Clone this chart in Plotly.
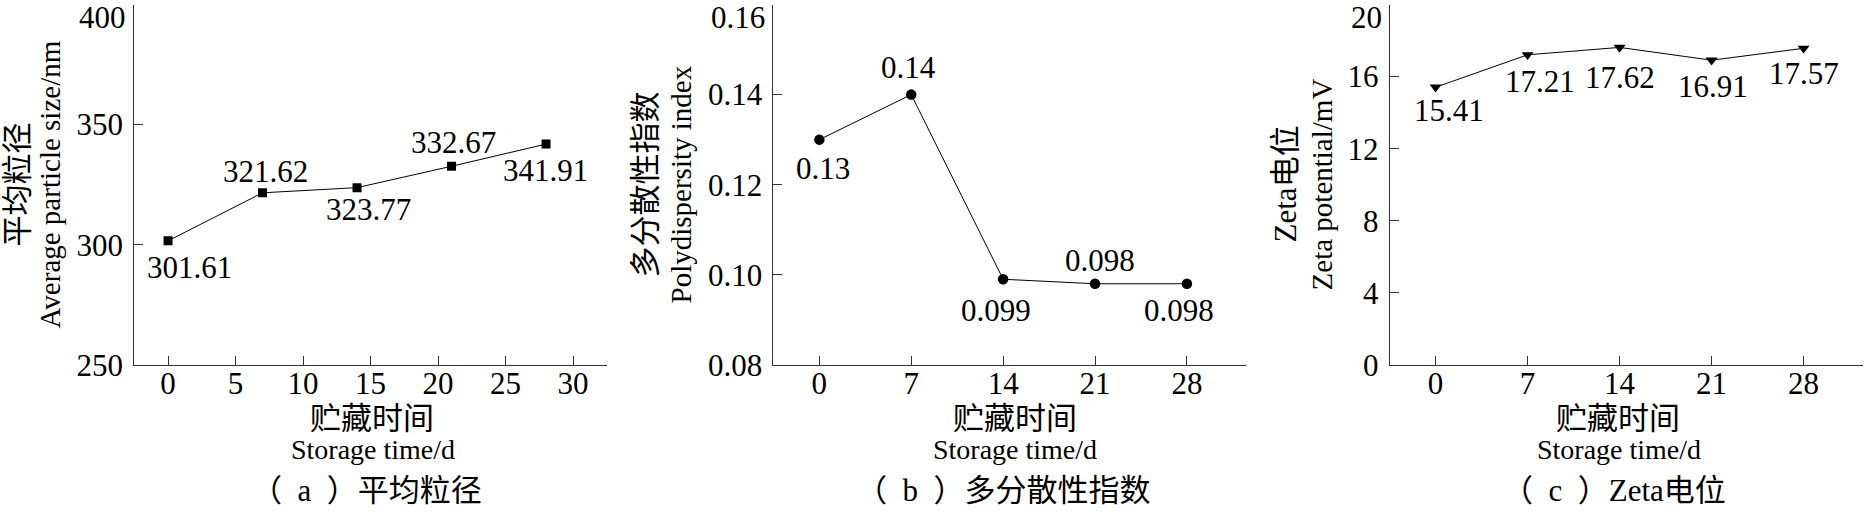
import plotly.graph_objects as go

# ---------------- data ----------------
days = [0, 7, 14, 21, 28]
particle_size_nm = [301.61, 321.62, 323.77, 332.67, 341.91]
pdi_index = [0.13, 0.14, 0.099, 0.098, 0.098]
zeta_potential_mv = [15.41, 17.21, 17.62, 16.91, 17.57]

xticks_a = [0, 5, 10, 15, 20, 25, 30]
xticks_bc = [0, 7, 14, 21, 28]
yticks_a = [250, 300, 350, 400]
yticks_b = [0.08, 0.10, 0.12, 0.14, 0.16]
yticks_c = [0, 4, 8, 12, 16, 20]

ytitle_cn = ["平均粒径", "多分散性指数", "Zeta电位"]
ytitle_en = ["Average particle size/nm", "Polydispersity index", "Zeta potential/mV"]
xtitle_cn = "贮藏时间"
xtitle_en = "Storage time/d"
captions = ["（\u2002a\u2002）平均粒径", "（\u2002b\u2002）多分散性指数", "（\u2002c\u2002）Zeta电位"]

# ---------------- style ----------------
W, H = 1864, 524
FONT = "'Liberation Serif', 'Noto Sans CJK SC', serif"
INK = "#000000"
AXC = "#333333"
TICK_FS = 31
LABEL_FS = 31
CN_FS = 31
EN_FS_Y = 29
EN_FS_X = 28

x_dom = [(134.3, 606.8), (773.4, 1246.0), (1389.6, 1862.7)]
y_dom_px = (4.7, 377.8)
x_ranges = [(-2.5, 32.5), (-3.5, 32.5), (-3.5, 32.5)]
y_ranges = [(250, 400), (0.08, 0.16), (0, 20)]
markers = ["square", "circle", "triangle-down"]
marker_sizes = [9, 10.5, 10.5]
label_off = [
    [(21.5, 27), (3, -21), (11.5, 22), (2, -24), (-1, 26)],
    [(4, 29), (-3, -27), (-7.6, 31), (5, -23), (-8, 27)],
    [(13, 23), (12, 27), (0, 30), (1, 26), (0, 25)],
]
ytitle_cn_x = [17, 645, 1285]
ytitle_en_x = [50, 681, 1322]
ytitle_y = 191
xtitle_cn_pos = [(372, 433), (1014.5, 433), (1618, 433)]
xtitle_en_pos = [(373, 466), (1015, 466), (1619, 466)]
caption_pos = [(366, 508), (1003.5, 508), (1614, 508)]


def px_x(x):
    return x / W


def px_y(y):
    return 1 - y / H


series = [particle_size_nm, pdi_index, zeta_potential_mv]
xticks = [xticks_a, xticks_bc, xticks_bc]
yticks = [yticks_a, yticks_b, yticks_c]
yfmt = [lambda v: f"{v:g}", lambda v: f"{v:.2f}", lambda v: f"{v:g}"]

fig = go.Figure()
annotations = []

for i in range(3):
    sfx = "" if i == 0 else str(i + 1)
    xa, ya = "x" + sfx, "y" + sfx
    fig.add_trace(go.Scatter(
        x=days, y=series[i], xaxis=xa, yaxis=ya, mode="lines+markers",
        line=dict(color=INK, width=1),
        marker=dict(symbol=markers[i], size=marker_sizes[i], color=INK, line=dict(width=0)),
        showlegend=False, hoverinfo="x+y",
    ))
    # data labels
    for d, v, (dx, dy) in zip(days, series[i], label_off[i]):
        annotations.append(dict(
            x=d, y=v, xref=xa, yref=ya, text=f"{v:g}", showarrow=False,
            xanchor="center", yanchor="middle", xshift=dx, yshift=-dy,
            font=dict(family=FONT, size=LABEL_FS, color=INK),
        ))
    xr = x_ranges[i]
    xt = xticks[i] + [xr[1]]
    xtt = [str(t) for t in xticks[i]] + [""]
    yt = yticks[i]
    ytt = [yfmt[i](t) for t in yt[:-1]] + [""]
    common = dict(
        showline=True, linecolor=AXC, linewidth=1, showgrid=False, zeroline=False,
        ticks="inside", ticklen=9, tickwidth=1, tickcolor=AXC,
        tickfont=dict(family=FONT, size=TICK_FS, color=INK), fixedrange=True,
    )
    fig.update_layout(**{
        ("xaxis" + sfx): dict(
            domain=[px_x(x_dom[i][0]), px_x(x_dom[i][1])], range=list(xr),
            tickmode="array", tickvals=xt, ticktext=xtt, anchor=ya,
            ticklabelstandoff=-9, **common),
        ("yaxis" + sfx): dict(
            domain=[px_y(y_dom_px[1]), px_y(y_dom_px[0])], range=list(y_ranges[i]),
            tickmode="array", tickvals=yt, ticktext=ytt, anchor=xa,
            ticklabelstandoff=4, **common),
    })
    # top y tick label, nudged down (as in the original) so it stays inside the picture
    annotations.append(dict(
        x=0, xref=xa + " domain", y=yt[-1], yref=ya, text=yfmt[i](yt[-1]),
        showarrow=False, xanchor="right", yanchor="middle", xshift=-7, yshift=-13,
        borderpad=0, font=dict(family=FONT, size=TICK_FS, color=INK),
    ))
    # y titles
    annotations.append(dict(
        x=px_x(ytitle_cn_x[i]), y=px_y(ytitle_y), xref="paper", yref="paper",
        text=ytitle_cn[i], textangle=-90, showarrow=False,
        xanchor="center", yanchor="middle", font=dict(family=FONT, size=CN_FS, color=INK)))
    annotations.append(dict(
        x=px_x(ytitle_en_x[i]), y=px_y(ytitle_y), xref="paper", yref="paper",
        text=ytitle_en[i], textangle=-90, showarrow=False,
        xanchor="center", yanchor="middle", font=dict(family=FONT, size=EN_FS_Y, color=INK)))
    # x titles
    annotations.append(dict(
        x=px_x(xtitle_cn_pos[i][0]), y=px_y(xtitle_cn_pos[i][1]), xref="paper", yref="paper",
        text=xtitle_cn, showarrow=False, xanchor="center", yanchor="middle",
        font=dict(family=FONT, size=CN_FS, color=INK)))
    annotations.append(dict(
        x=px_x(xtitle_en_pos[i][0]), y=px_y(xtitle_en_pos[i][1]), xref="paper", yref="paper",
        text=xtitle_en, showarrow=False, xanchor="center", yanchor="middle",
        font=dict(family=FONT, size=EN_FS_X, color=INK)))
    # caption
    annotations.append(dict(
        x=px_x(caption_pos[i][0]), y=px_y(caption_pos[i][1]), xref="paper", yref="paper",
        text=captions[i], showarrow=False, xanchor="center", yanchor="middle",
        font=dict(family=FONT, size=CN_FS, color=INK)))

fig.update_layout(
    width=W, height=H, margin=dict(l=0, r=0, t=0, b=0),
    paper_bgcolor="white", plot_bgcolor="white",
    annotations=annotations, showlegend=False,
    font=dict(family=FONT, color=INK),
)

fig.write_html(
    "out.html",
    config={"displayModeBar": False},
    post_script="document.body.style.margin='0';document.body.style.overflow='hidden';"
                "document.documentElement.style.overflow='hidden';",
)
